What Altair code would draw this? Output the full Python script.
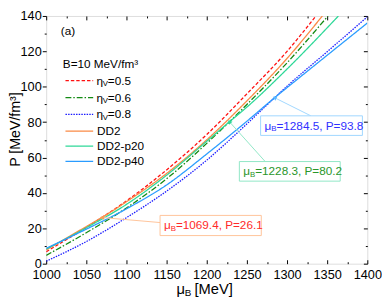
import altair as alt
import pandas as pd

# ---------------- data ----------------
series_keys = ["eta05", "eta06", "eta08", "DD2", "DD2p20", "DD2p40"]

eta05_mu = [1000, 1050, 1069.4, 1100, 1150, 1200, 1250, 1300, 1336]
eta05_P = [6.7, 20.5, 26.1, 35.5, 53, 73, 96, 120, 140]

eta06_mu = [1000, 1050, 1100, 1150, 1200, 1228.3, 1250, 1300, 1351]
eta06_P = [4.7, 17.5, 31.5, 48, 68, 80.2, 90, 113.5, 140]

eta08_mu = [1000, 1050, 1100, 1150, 1200, 1250, 1284.5, 1300, 1350, 1400]
eta08_P = [1.4, 12.5, 26, 41, 58.5, 79, 93.8, 100.3, 119.8, 139.5]

DD2_mu = [1000, 1050, 1069.4, 1100, 1150, 1200, 1250, 1300, 1344]
DD2_P = [7.8, 21, 26.1, 35, 51, 70, 92, 116, 140]

DD2p20_mu = [1000, 1050, 1100, 1150, 1200, 1228.3, 1250, 1300, 1364]
DD2p20_P = [8.2, 20.3, 33.5, 50, 69.2, 80.2, 88.5, 110, 140]

DD2p40_mu = [1000, 1050, 1100, 1150, 1200, 1250, 1284.5, 1300, 1350, 1400]
DD2p40_P = [8.7, 19.5, 31, 44.5, 62, 80.5, 93.8, 99.5, 117.8, 136]

cross_mu = [1069.4, 1228.3, 1284.5]
cross_P = [26.1, 80.2, 93.8]
cross_labels = ["=1069.4, P=26.1", "=1228.3, P=80.2", "=1284.5, P=93.8"]

x_major = [1000, 1050, 1100, 1150, 1200, 1250, 1300, 1350, 1400]
x_minor = [1025, 1075, 1125, 1175, 1225, 1275, 1325, 1375]
y_major = [0, 20, 40, 60, 80, 100, 120, 140]
y_minor = [10, 30, 50, 70, 90, 110, 130]

legend_labels = ["=0.5", "=0.6", "=0.8", "DD2", "DD2-p20", "DD2-p40"]

# ---------------- styles / layout ----------------
colors = ["#ff1010", "#138a13", "#1a1aff", "#fa8a45", "#2ed898", "#2a9cff"]
dashes = [[3.5, 2], [6, 2, 1.5, 2], [1.5, 1.2], [1, 0], [1, 0], [1, 0]]
FONT = "Liberation Sans"
W, H = 328, 253
PAD_L, PAD_T = 39, 5
OX, OY = 8 + PAD_L, 8 + PAD_T  # page position of plot origin

mus = [eta05_mu, eta06_mu, eta08_mu, DD2_mu, DD2p20_mu, DD2p40_mu]
Ps = [eta05_P, eta06_P, eta08_P, DD2_P, DD2p20_P, DD2p40_P]
rows = []
for k, m, p in zip(series_keys, mus, Ps):
    for a, b in zip(m, p):
        rows.append({"series": k, "mu": a, "P": b})
df = pd.DataFrame(rows)

xs = alt.Scale(domain=[1000, 1400], nice=False, zero=False)
ys = alt.Scale(domain=[0, 140], nice=False, zero=False)


def ax(orient, values, size, offset, labels=False):
    kw = dict(orient=orient, values=values, tickSize=size, offset=offset, labels=labels,
              domain=False, grid=False, title=None, tickColor="black", tickWidth=1,
              labelFont=FONT, labelFontSize=13, labelColor="black", labelOverlap=False,
              labelFlush=False, format="d")
    if orient == "bottom":
        kw["labelPadding"] = 5
    if orient == "left":
        kw["labelPadding"] = 1
    return alt.Axis(**kw)


def axis_layer(xa, ya):
    return alt.Chart(df).mark_point(opacity=0).encode(
        x=alt.X("mu:Q", scale=xs, axis=xa),
        y=alt.Y("P:Q", scale=ys, axis=ya),
    )


layers = [
    axis_layer(ax("bottom", x_major, 4, -4, True), ax("left", y_major, 4, 0, True)),
    axis_layer(ax("bottom", x_minor, 2, -2), ax("left", y_minor, 2, 0)),
    axis_layer(ax("top", x_major, 4, -4), ax("right", y_major, 4, -4)),
    axis_layer(ax("top", x_minor, 2, -2), ax("right", y_minor, 2, -2)),
]

for k, c, d in zip(series_keys, colors, dashes):
    layers.append(
        alt.Chart(df[df.series == k]).mark_line(
            color=c, strokeDash=d, strokeWidth=1.3, clip=True, interpolate="monotone"
        ).encode(
            x=alt.X("mu:Q", scale=xs, axis=None),
            y=alt.Y("P:Q", scale=ys, axis=None),
        )
    )


def text(s, x, y, size=12, color="black", align="left", angle=0):
    kw = dict(align=align, baseline="middle", font=FONT, fontSize=size, color=color)
    if angle:
        kw["angle"] = angle
    return alt.Chart(pd.DataFrame({"t": [s]})).mark_text(**kw).encode(
        x=alt.value(x - OX), y=alt.value(y - OY), text="t:N")


# annotations (page coords)
boxes = [(163.3, 216.7, 266.7, 237.3), (244.3, 161.7, 347.3, 181.7), (266, 115, 370, 135)]
box_strokes = ["#ffc49a", "#8fe6c6", "#9fd6ff"]
ann_text_col = ["#ff2a2a", "#2a962a", "#3030ff"]
leader_end = [(163.3, 224), (270.7, 161.7), (317.3, 115)]
arrow_ang = [275, 318, 297]
arrow_col = ["#fa9a55", "#2ed898", "#5ab8ff"]

for i in range(3):
    cdf = pd.DataFrame({"mu": [cross_mu[i]], "P": [cross_P[i]]})
    layers.append(
        alt.Chart(cdf).mark_rule(color=box_strokes[i], strokeWidth=1).encode(
            x=alt.X("mu:Q", scale=xs, axis=None), y=alt.Y("P:Q", scale=ys, axis=None),
            x2=alt.value(leader_end[i][0] - OX), y2=alt.value(leader_end[i][1] - OY)))
    layers.append(
        alt.Chart(cdf).mark_point(shape="triangle-up", filled=True, size=22, opacity=1,
                                  angle=arrow_ang[i], color=arrow_col[i]).encode(
            x=alt.X("mu:Q", scale=xs, axis=None), y=alt.Y("P:Q", scale=ys, axis=None)))
    x1, y1, x2, y2 = boxes[i]
    layers.append(
        alt.Chart(pd.DataFrame({"a": [0]})).mark_rect(fill="white", stroke=box_strokes[i],
                                                       strokeWidth=1).encode(
            x=alt.value(x1 - OX), x2=alt.value(x2 - OX), y=alt.value(y1 - OY), y2=alt.value(y2 - OY)))
    tx = x1 + 4
    ty = (y1 + y2) / 2
    layers.append(text("μ", tx, ty, 12, ann_text_col[i]))
    layers.append(text("B", tx + 6.9, ty + 3.5, 8, ann_text_col[i]))
    layers.append(text(cross_labels[i], tx + 12.2, ty, 12, ann_text_col[i]))

# legend
layers.append(text("(a)", 62, 28, 12))
layers.append(text("B=10 MeV/fm³", 64, 62, 12))
leg_y = [79, 96.5, 113.5, 130.5, 146, 161.5]
for i in range(6):
    layers.append(
        alt.Chart(pd.DataFrame({"a": [0]})).mark_rule(
            color=colors[i], strokeDash=dashes[i], strokeWidth=1.3).encode(
            x=alt.value(66.7 - OX), x2=alt.value(95 - OX), y=alt.value(leg_y[i] - OY)))
    if i < 3:
        layers.append(text("η", 98.5, leg_y[i], 12))
        layers.append(text("V", 104.8, leg_y[i] + 3.5, 8))
        layers.append(text(legend_labels[i], 110, leg_y[i], 12))
    else:
        layers.append(text(legend_labels[i], 99, leg_y[i], 12))

# axis titles
layers.append(text("μ", 180, 292, 15))
layers.append(text("B", 188.5, 296.5, 10))
layers.append(text("[MeV]", 198.5, 292, 15))
layers.append(text("P [MeV/fm³]", 16, 129, 14.5, align="center", angle=270))

chart = alt.layer(*layers).resolve_axis(x="independent", y="independent").properties(
    width=W, height=H,
    padding={"left": PAD_L, "top": PAD_T, "right": 15, "bottom": 36},
    autosize=alt.AutoSizeParams(type="none"),
).configure_view(stroke="black", strokeWidth=1).configure(background="white")

chart.save("out.html", embed_options={"renderer": "svg", "actions": False})
